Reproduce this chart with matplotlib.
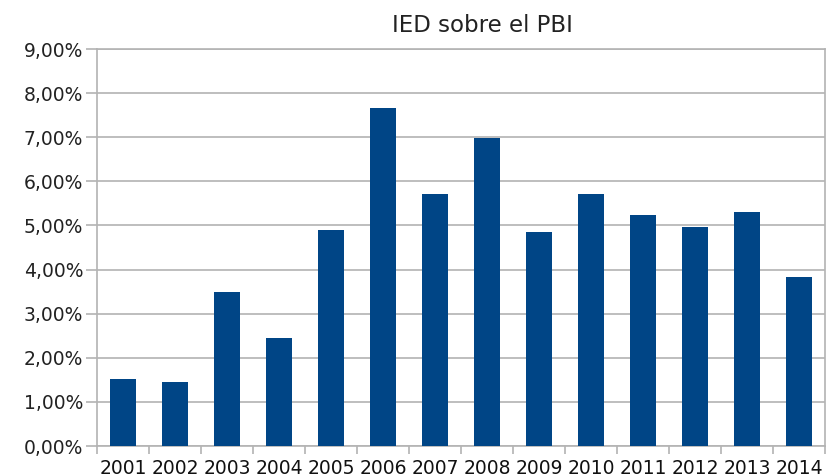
import numpy as np
import matplotlib.pyplot as plt
from matplotlib.ticker import FuncFormatter, FixedLocator

years = ["2001", "2002", "2003", "2004", "2005", "2006", "2007",
         "2008", "2009", "2010", "2011", "2012", "2013", "2014"]
ied_pbi = [1.51, 1.46, 3.48, 2.44, 4.90, 7.67, 5.71,
           6.98, 4.85, 5.71, 5.24, 4.97, 5.30, 3.84]

plt.rcParams['font.family'] = ['DejaVu Sans']
grey = "#b3b3b3"

fig = plt.figure(figsize=(8.27, 4.76), dpi=100)
ax = fig.add_axes([97 / 827, 30 / 476, 728 / 827, 397 / 476])

x = np.arange(len(years))
ax.bar(x, ied_pbi, width=0.5, color="#004586", zorder=3)

ax.set_xlim(-0.5, len(years) - 0.5)
ax.set_ylim(0, 9)
ax.set_yticks(np.arange(0, 10, 1))
ax.yaxis.set_major_formatter(FuncFormatter(lambda v, p: f"{v:.2f}%".replace(".", ",")))
ax.grid(axis="y", color=grey, linewidth=1.2, zorder=0)

ax.set_xticks(x)
ax.set_xticklabels(years)
ax.xaxis.set_minor_locator(FixedLocator(np.arange(-0.5, len(years), 1)))
ax.tick_params(axis="x", which="major", length=0, pad=9, labelsize=13.5, colors="#111111")
ax.tick_params(axis="x", which="minor", length=6, width=1.2, color=grey)
ax.tick_params(axis="y", length=8, width=1.2, color=grey, labelsize=13.5,
               labelcolor="#222222", pad=2)

for s in ax.spines.values():
    s.set_color(grey)
    s.set_linewidth(1.2)

fig.text(482 / 827, 1 - 25 / 476, "IED sobre el PBI", ha="center", va="center",
         fontsize=16.5, color="#222222")

fig.savefig("out.png", dpi=100)
